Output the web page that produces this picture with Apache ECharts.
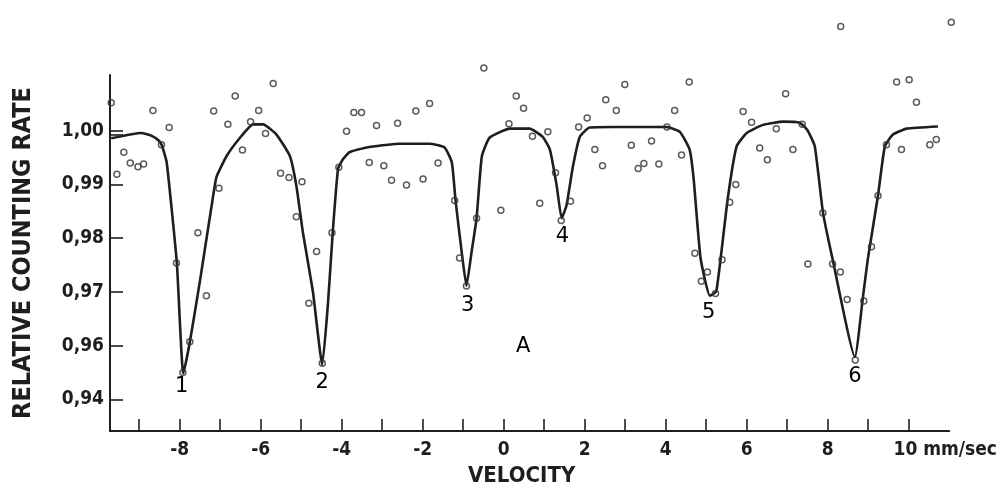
<!DOCTYPE html>
<html>
<head>
<meta charset="utf-8">
<script src="https://cdn.jsdelivr.net/npm/echarts@6/dist/echarts.min.js"></script>
<style>
html,body{margin:0;padding:0;background:#fff;}
#chart{width:1000px;height:492px;}
</style>
</head>
<body>
<div id="chart"></div>
<script>
// fitted curve (velocity mm/s, relative counting rate)
const curveVelocity = [-9.69,-8.95,-8.70,-8.52,-8.44,-8.32,-8.07,-7.91,-7.75,-7.50,-7.21,-7.09,-6.84,-6.51,-6.19,-5.94,-5.61,-5.28,-5.12,-4.96,-4.71,-4.48,-4.34,-4.22,-4.09,-3.97,-3.81,-3.38,-2.60,-1.83,-1.46,-1.28,-1.19,-1.04,-0.92,-0.79,-0.67,-0.54,-0.35,0.15,0.64,0.96,1.14,1.31,1.43,1.55,1.71,1.88,2.12,2.70,4.02,4.35,4.59,4.69,4.86,5.09,5.25,5.53,5.75,6.00,6.40,6.90,7.31,7.50,7.68,7.88,8.12,8.67,8.87,8.99,9.24,9.41,9.61,9.95,10.72];
const curveRate = [0.9986,0.9996,0.9991,0.9982,0.9973,0.9941,0.9754,0.9548,0.9606,0.9720,0.9861,0.9914,0.9953,0.9987,1.0012,1.0012,0.9993,0.9953,0.9898,0.9812,0.9700,0.9564,0.9677,0.9812,0.9929,0.9947,0.9960,0.9969,0.9976,0.9976,0.9969,0.9941,0.9871,0.9776,0.9711,0.9776,0.9837,0.9952,0.9987,1.0004,1.0004,0.9989,0.9965,0.9897,0.9837,0.9861,0.9934,0.9989,1.0006,1.0007,1.0007,0.9998,0.9965,0.9910,0.9763,0.9693,0.9701,0.9873,0.9971,0.9996,1.0011,1.0017,1.0015,1.0001,0.9971,0.9849,0.9761,0.9579,0.9691,0.9761,0.9879,0.9971,0.9993,1.0004,1.0008];

// measured points
const pointVelocity = [-9.69,-8.66,-8.26,-8.45,-9.38,-9.22,-9.03,-8.89,-9.55,-8.08,-7.92,-7.75,-7.55,-7.34,-7.03,-7.16,-6.81,-6.63,-6.45,-6.25,-6.05,-5.88,-5.69,-5.51,-5.30,-4.98,-5.12,-4.81,-4.62,-4.48,-4.24,-4.07,-3.88,-3.70,-3.51,-3.32,-3.14,-2.96,-2.77,-2.62,-2.40,-2.17,-1.99,-1.83,-1.62,-1.21,-1.09,-0.92,-0.67,-0.49,-0.07,0.13,0.31,0.49,0.71,0.89,1.09,1.28,1.42,1.65,1.85,2.06,2.25,2.44,2.52,2.78,2.99,3.15,3.32,3.46,3.65,3.83,4.03,4.22,4.39,4.58,4.72,4.88,5.03,5.23,5.39,5.58,5.73,5.91,6.12,6.32,6.51,6.73,6.96,7.14,7.37,7.51,7.88,8.12,8.31,8.32,8.48,8.68,8.89,9.08,9.24,9.45,9.70,9.82,10.01,10.19,10.52,10.68,11.05];
const pointRate = [1.0052,1.0038,1.0006,0.9974,0.9960,0.9940,0.9933,0.9938,0.9919,0.9754,0.9550,0.9607,0.9810,0.9693,0.9893,1.0037,1.0012,1.0065,0.9964,1.0017,1.0038,0.9995,1.0088,0.9921,0.9913,0.9905,0.9840,0.9679,0.9775,0.9567,0.9810,0.9932,0.9999,1.0034,1.0034,0.9941,1.0010,0.9935,0.9908,1.0014,0.9899,1.0037,0.9910,1.0051,0.9940,0.9870,0.9763,0.9711,0.9837,1.0117,0.9852,1.0013,1.0065,1.0042,0.9990,0.9865,0.9998,0.9922,0.9833,0.9869,1.0007,1.0024,0.9965,0.9935,1.0058,1.0038,1.0086,0.9973,0.9930,0.9939,0.9981,0.9938,1.0007,1.0038,0.9955,1.0091,0.9772,0.9720,0.9737,0.9697,0.9760,0.9867,0.9900,1.0036,1.0016,0.9968,0.9946,1.0004,1.0069,0.9965,1.0012,0.9752,0.9847,0.9752,0.9737,1.0194,0.9686,0.9573,0.9683,0.9784,0.9879,0.9974,1.0091,0.9965,1.0095,1.0053,0.9974,0.9984,1.0202];

// annotations
const noteText = ['1','2','3','4','5','6','A'];
const noteVelocity = [-7.95,-4.48,-0.89,1.45,5.06,8.67,0.48];
const noteRate = [0.9524,0.9532,0.9674,0.9803,0.9662,0.9542,0.9598];

// axis ticks and labels
const xTickValues = [-9,-8,-7,-6,-5,-4,-3,-2,-1,0,1,2,3,4,5,6,7,8,9,10];
const xLabelValues = [-8,-6,-4,-2,0,2,4,6,8,10];
const xLabelTexts = ['-8','-6','-4','-2','0','2','4','6','8','10 mm/sec'];
const yTickValues = [0.95,0.96,0.97,0.98,0.99,0.9993,1.00];
const yLabelValues = [0.95,0.96,0.97,0.98,0.99,1.00];
const yLabelTexts = ['0,94','0,96','0,97','0,98','0,99','1,00'];

const curveData = curveVelocity.map((v,i)=>[v,curveRate[i]]);
const pointData = pointVelocity.map((v,i)=>[v,pointRate[i]]);
const noteData = noteText.map((t,i)=>({name:t,value:[noteVelocity[i],noteRate[i]]}));

const ink = '#1e1e1e';
const chart = echarts.init(document.getElementById('chart'), null, {renderer:'canvas'});
chart.setOption({
  backgroundColor:'#ffffff',
  animation:false,
  grid:{left:110,right:49,top:75,bottom:57,containLabel:false},
  xAxis:{
    type:'value', min:-9.72, max:11.0,
    name:'VELOCITY', nameLocation:'middle', nameGap:34,
    nameTextStyle:{fontFamily:'DejaVu Sans Condensed',fontWeight:'bold',fontSize:22,color:ink,padding:[0,16,0,0]},
    axisLine:{show:true,onZero:false,lineStyle:{color:ink,width:2}},
    axisTick:{show:true,inside:true,length:12,customValues:xTickValues,lineStyle:{color:ink,width:1.6}},
    axisLabel:{show:true,margin:10,customValues:xLabelValues,
      formatter:function(v){const i=xLabelValues.indexOf(Math.round(v));const t=i>=0?xLabelTexts[i]:'';return i===xLabelValues.length-1?'{pad|}{t|'+t+'}':'{t|'+t+'}';},
      rich:{pad:{width:73},t:{fontFamily:'DejaVu Sans Condensed',fontWeight:'bold',fontSize:19,color:ink}},
      fontFamily:'DejaVu Sans Condensed',fontWeight:'bold',fontSize:19,color:ink},
    splitLine:{show:false}
  },
  yAxis:{
    type:'value', min:0.94409, max:1.01039,
    name:'RELATIVE COUNTING RATE', nameLocation:'middle', nameGap:74,
    nameTextStyle:{fontFamily:'DejaVu Sans Condensed',fontWeight:'bold',fontSize:25,color:ink},
    axisLine:{show:true,onZero:false,lineStyle:{color:ink,width:2}},
    axisTick:{show:true,inside:true,length:13,customValues:yTickValues,lineStyle:{color:ink,width:1.6}},
    axisLabel:{show:true,margin:6,customValues:yLabelValues,
      formatter:function(v){let best=0;for(let i=0;i<yLabelValues.length;i++){if(Math.abs(yLabelValues[i]-v)<Math.abs(yLabelValues[best]-v))best=i;}return yLabelTexts[best];},
      fontFamily:'DejaVu Sans Condensed',fontWeight:'bold',fontSize:19,color:ink},
    splitLine:{show:false}
  },
  series:[
    {type:'line',data:curveData,smooth:0.15,showSymbol:false,clip:false,
      lineStyle:{color:ink,width:2.6},z:2},
    {type:'scatter',data:pointData,symbol:'circle',symbolSize:6,clip:false,
      itemStyle:{color:'rgba(255,255,255,0)',borderColor:'#333',borderWidth:1.5},z:3},
    {type:'scatter',data:noteData,symbolSize:1,clip:false,
      itemStyle:{color:'#ffffff',opacity:1},
      label:{show:true,position:'inside',formatter:'{b}',fontFamily:'DejaVu Sans',fontSize:21,color:'#000',opacity:1,textBorderWidth:0},z:4}
  ]
});
</script>
</body>
</html>
